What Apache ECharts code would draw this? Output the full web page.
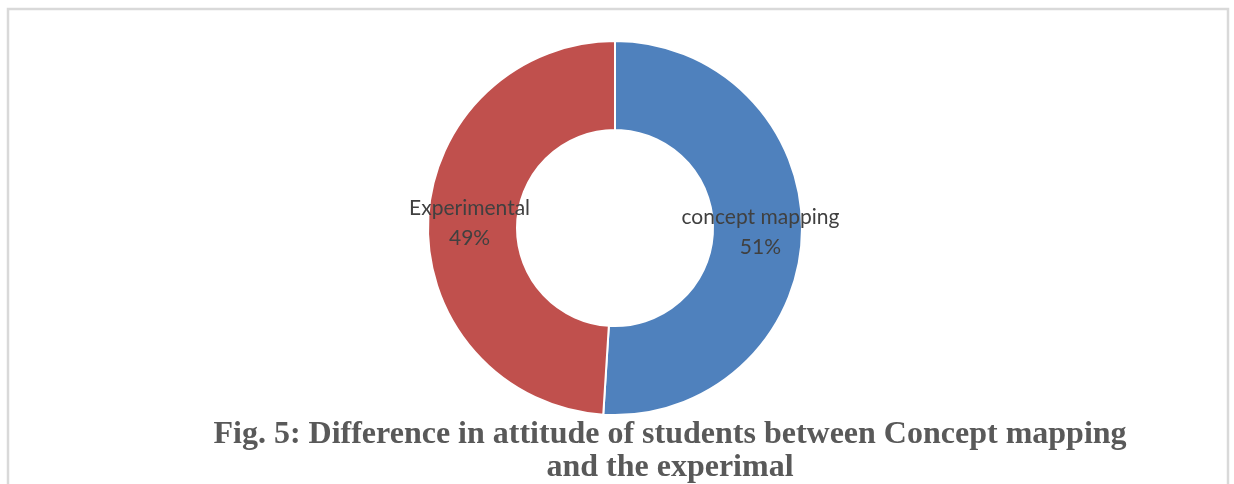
<!DOCTYPE html>
<html>
<head>
<meta charset="utf-8">
<script src="https://cdn.jsdelivr.net/npm/echarts@6/dist/echarts.min.js"></script>
<style>
  html, body { margin: 0; padding: 0; background: #ffffff; }
  #chart { width: 1234px; height: 484px; }
</style>
</head>
<body>
<div id="chart"></div>
<script>
// Group names and their shares (percent)
const groups = ['concept mapping', 'Experimental'];
const shares = [51, 49];
const groupColors = ['#4F81BD', '#C0504D'];
const captionLines = [
  'Fig. 5: Difference in attitude of students between Concept mapping',
  'and the experimal'
];

const chart = echarts.init(document.getElementById('chart'), null, { renderer: 'canvas' });

chart.setOption({
  animation: false,
  backgroundColor: '#ffffff',
  graphic: [
    {
      type: 'rect',
      shape: { x: 8, y: 9, width: 1220, height: 520 },
      style: { fill: 'none', stroke: '#d9d9d9', lineWidth: 2.5 },
      silent: true
    }
  ],
  title: {
    text: captionLines.join('\n'),
    left: 665,
    top: 413,
    textAlign: 'center',
    textStyle: {
      fontFamily: '"Liberation Serif", "Times New Roman", serif',
      fontWeight: 'bold',
      fontSize: 32,
      lineHeight: 33,
      color: '#595959'
    }
  },
  series: [
    {
      type: 'pie',
      center: [615, 228],
      radius: [98, 187],
      startAngle: 90,
      clockwise: true,
      avoidLabelOverlap: false,
      itemStyle: { borderColor: '#ffffff', borderWidth: 2 },
      label: {
        show: true,
        position: 'inside',
        formatter: p => p.name + '\n' + p.value + '%',
        fontFamily: 'Lato, "Open Sans", sans-serif',
        fontSize: 21,
        lineHeight: 30,
        color: '#404040'
      },
      labelLine: { show: false },
      emphasis: { disabled: true },
      data: groups.map((g, i) => ({
        name: g,
        value: shares[i],
        itemStyle: { color: groupColors[i] }
      }))
    }
  ]
});
</script>
</body>
</html>
